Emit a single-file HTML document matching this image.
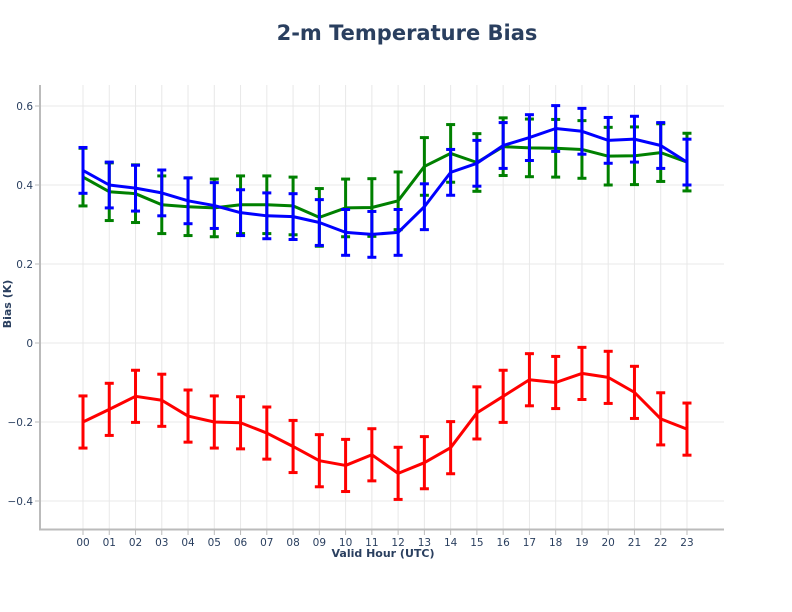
<!DOCTYPE html>
<html><head><meta charset="utf-8"><style>
body{margin:0;background:#fff;}
svg{display:block;font-family:"DejaVu Sans","Liberation Sans",sans-serif;}
</style></head><body>
<svg id="s" width="792" height="612" viewBox="0 0 792 612" xmlns="http://www.w3.org/2000/svg">
<text x="407" y="40" text-anchor="middle" font-size="21" font-weight="bold" fill="#2a3f5f">2-m Temperature Bias</text>
<text transform="translate(11,304) rotate(-90)" text-anchor="middle" font-size="11" font-weight="bold" fill="#2a3f5f">Bias (K)</text>
<text x="383" y="557" text-anchor="middle" font-size="11" font-weight="bold" fill="#2a3f5f">Valid Hour (UTC)</text>
<g id="grid"></g><g id="data"></g>
<line x1="40" y1="85" x2="40" y2="530" stroke="#bbb" stroke-width="2"/>
<line x1="39" y1="529.5" x2="724" y2="529.5" stroke="#bbb" stroke-width="2"/>
</svg>
<script>
var s=document.getElementById('grid'),d=document.getElementById('data'),NS="http://www.w3.org/2000/svg";
function X(i){return 83+i*26.26;}function Y(v){return 343-v*395;}
function el(p,t,a,txt){var e=document.createElementNS(NS,t);for(var k in a)e.setAttribute(k,a[k]);if(txt!=null)e.textContent=txt;p.appendChild(e);return e;}
for(var i=0;i<24;i++){var x=X(i);el(s,'line',{x1:x,y1:85,x2:x,y2:529,stroke:'#e8e8e8','stroke-width':1});
el(s,'line',{x1:x,y1:530,x2:x,y2:535,stroke:'#bbb','stroke-width':1});
el(s,'text',{x:x,y:546,'text-anchor':'middle','font-size':10.5,fill:'#2a3f5f'},(i<10?'0':'')+i);}
[0.6,0.4,0.2,0,-0.2,-0.4].forEach(function(v){var y=Y(v);el(s,'line',{x1:40,y1:y,x2:724,y2:y,stroke:'#e8e8e8','stroke-width':1});
el(s,'line',{x1:35,y1:y,x2:40,y2:y,stroke:'#bbb','stroke-width':1});
el(s,'text',{x:33,y:y+4,'text-anchor':'end','font-size':10.5,fill:'#2a3f5f'},v==0?'0':(v<0?'\u2212'+(-v).toFixed(1):v.toFixed(1)));});
function series(vals,err,col){var pts=vals.map(function(v,i){return X(i)+','+Y(v);}).join(' ');
vals.forEach(function(v,i){var x=X(i),a=Y(v+err),b=Y(v-err);
el(d,'line',{x1:x,y1:a,x2:x,y2:b,stroke:col,'stroke-width':3});
el(d,'line',{x1:x-4.5,y1:a,x2:x+4.5,y2:a,stroke:col,'stroke-width':3});
el(d,'line',{x1:x-4.5,y1:b,x2:x+4.5,y2:b,stroke:col,'stroke-width':3});});
el(d,'polyline',{points:pts,fill:'none',stroke:col,'stroke-width':3,'stroke-linejoin':'round'});}
series([0.42,0.383,0.378,0.350,0.345,0.342,0.350,0.350,0.347,0.318,0.342,0.343,0.360,0.447,0.480,0.457,0.497,0.494,0.493,0.490,0.473,0.474,0.482,0.458],0.073,'#008000');
series([0.437,0.40,0.392,0.38,0.36,0.348,0.33,0.322,0.32,0.305,0.28,0.275,0.28,0.345,0.432,0.455,0.5,0.52,0.543,0.536,0.513,0.516,0.5,0.458],0.058,'#0000ff');
series([-0.2,-0.168,-0.135,-0.145,-0.185,-0.2,-0.202,-0.228,-0.262,-0.298,-0.31,-0.283,-0.33,-0.303,-0.265,-0.177,-0.135,-0.093,-0.1,-0.077,-0.087,-0.125,-0.192,-0.218],0.066,'#ff0000');
</script>
</body></html>
